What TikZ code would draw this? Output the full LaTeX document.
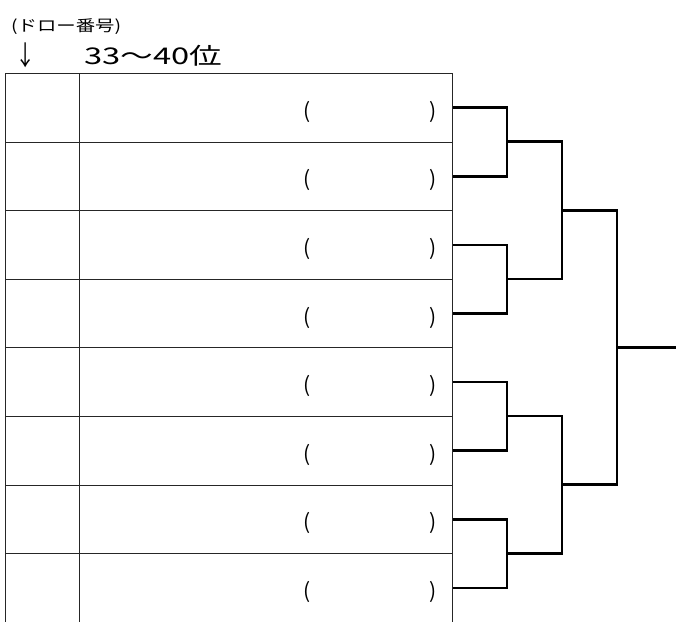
\documentclass[tikz,border=0pt]{standalone}
\usepackage{fontspec}
\setmainfont{Noto Sans CJK JP}
\begin{document}
\begin{tikzpicture}[x=1pt,y=-1pt,
  cellbox/.style={draw=black!85, line width=0.9pt, minimum height=68.6pt, inner sep=0pt, anchor=north west},
  numcell/.style={cellbox, minimum width=74pt},
  namecell/.style={cellbox, minimum width=373pt},
  paren/.style={inner sep=0pt, font=\fontsize{21}{21}\selectfont},
  bline/.style={line width=2.6pt, line join=miter}]
\useasboundingbox (0,0) rectangle (676,621);
\node[anchor=west, inner sep=0pt, font=\fontsize{15.5}{15.5}\selectfont] (drawno) at (11,27) {\scalebox{1.25}[1]{(ドロー番号)}};
\node[inner sep=0pt, font=\fontsize{27}{27}\selectfont] (arrow) at (26,55) {\scalebox{0.75}[1]{↓}};
\node[anchor=west, inner sep=0pt, font=\fontsize{23}{23}\selectfont] (title) at (84,56) {\scalebox{1.42}[1]{33〜40位}};
\foreach \i in {1,...,8}{
  \pgfmathsetmacro{\ytop}{73+68.6*(\i-1)}
  \node[numcell] (k\i) at (5,\ytop) {};
  \node[namecell] (n\i) at (79,\ytop) {};
  \node[paren] (lp\i) at (307.5,\ytop+38.8) {(};
  \node[paren] (rp\i) at (433.5,\ytop+38.8) {)};
}
\coordinate (a1) at (507,141.6);
\coordinate (a2) at (507,278.8);
\coordinate (a3) at (507,416.0);
\coordinate (a4) at (507,553.2);
\coordinate (b1) at (562,210.2);
\coordinate (b2) at (562,484.6);
\coordinate (c1) at (617,347.4);
\coordinate (win) at (676,347.4);
\draw[bline] (n1.east) -| (a1) |- (n2.east);
\draw[bline] (n3.east) -| (a2) |- (n4.east);
\draw[bline] (n5.east) -| (a3) |- (n6.east);
\draw[bline] (n7.east) -| (a4) |- (n8.east);
\draw[bline] (a1) -| (b1) |- (a2);
\draw[bline] (a3) -| (b2) |- (a4);
\draw[bline] (b1) -| (c1) |- (b2);
\draw[bline] (c1) -- (win);
\end{tikzpicture}
\end{document}
